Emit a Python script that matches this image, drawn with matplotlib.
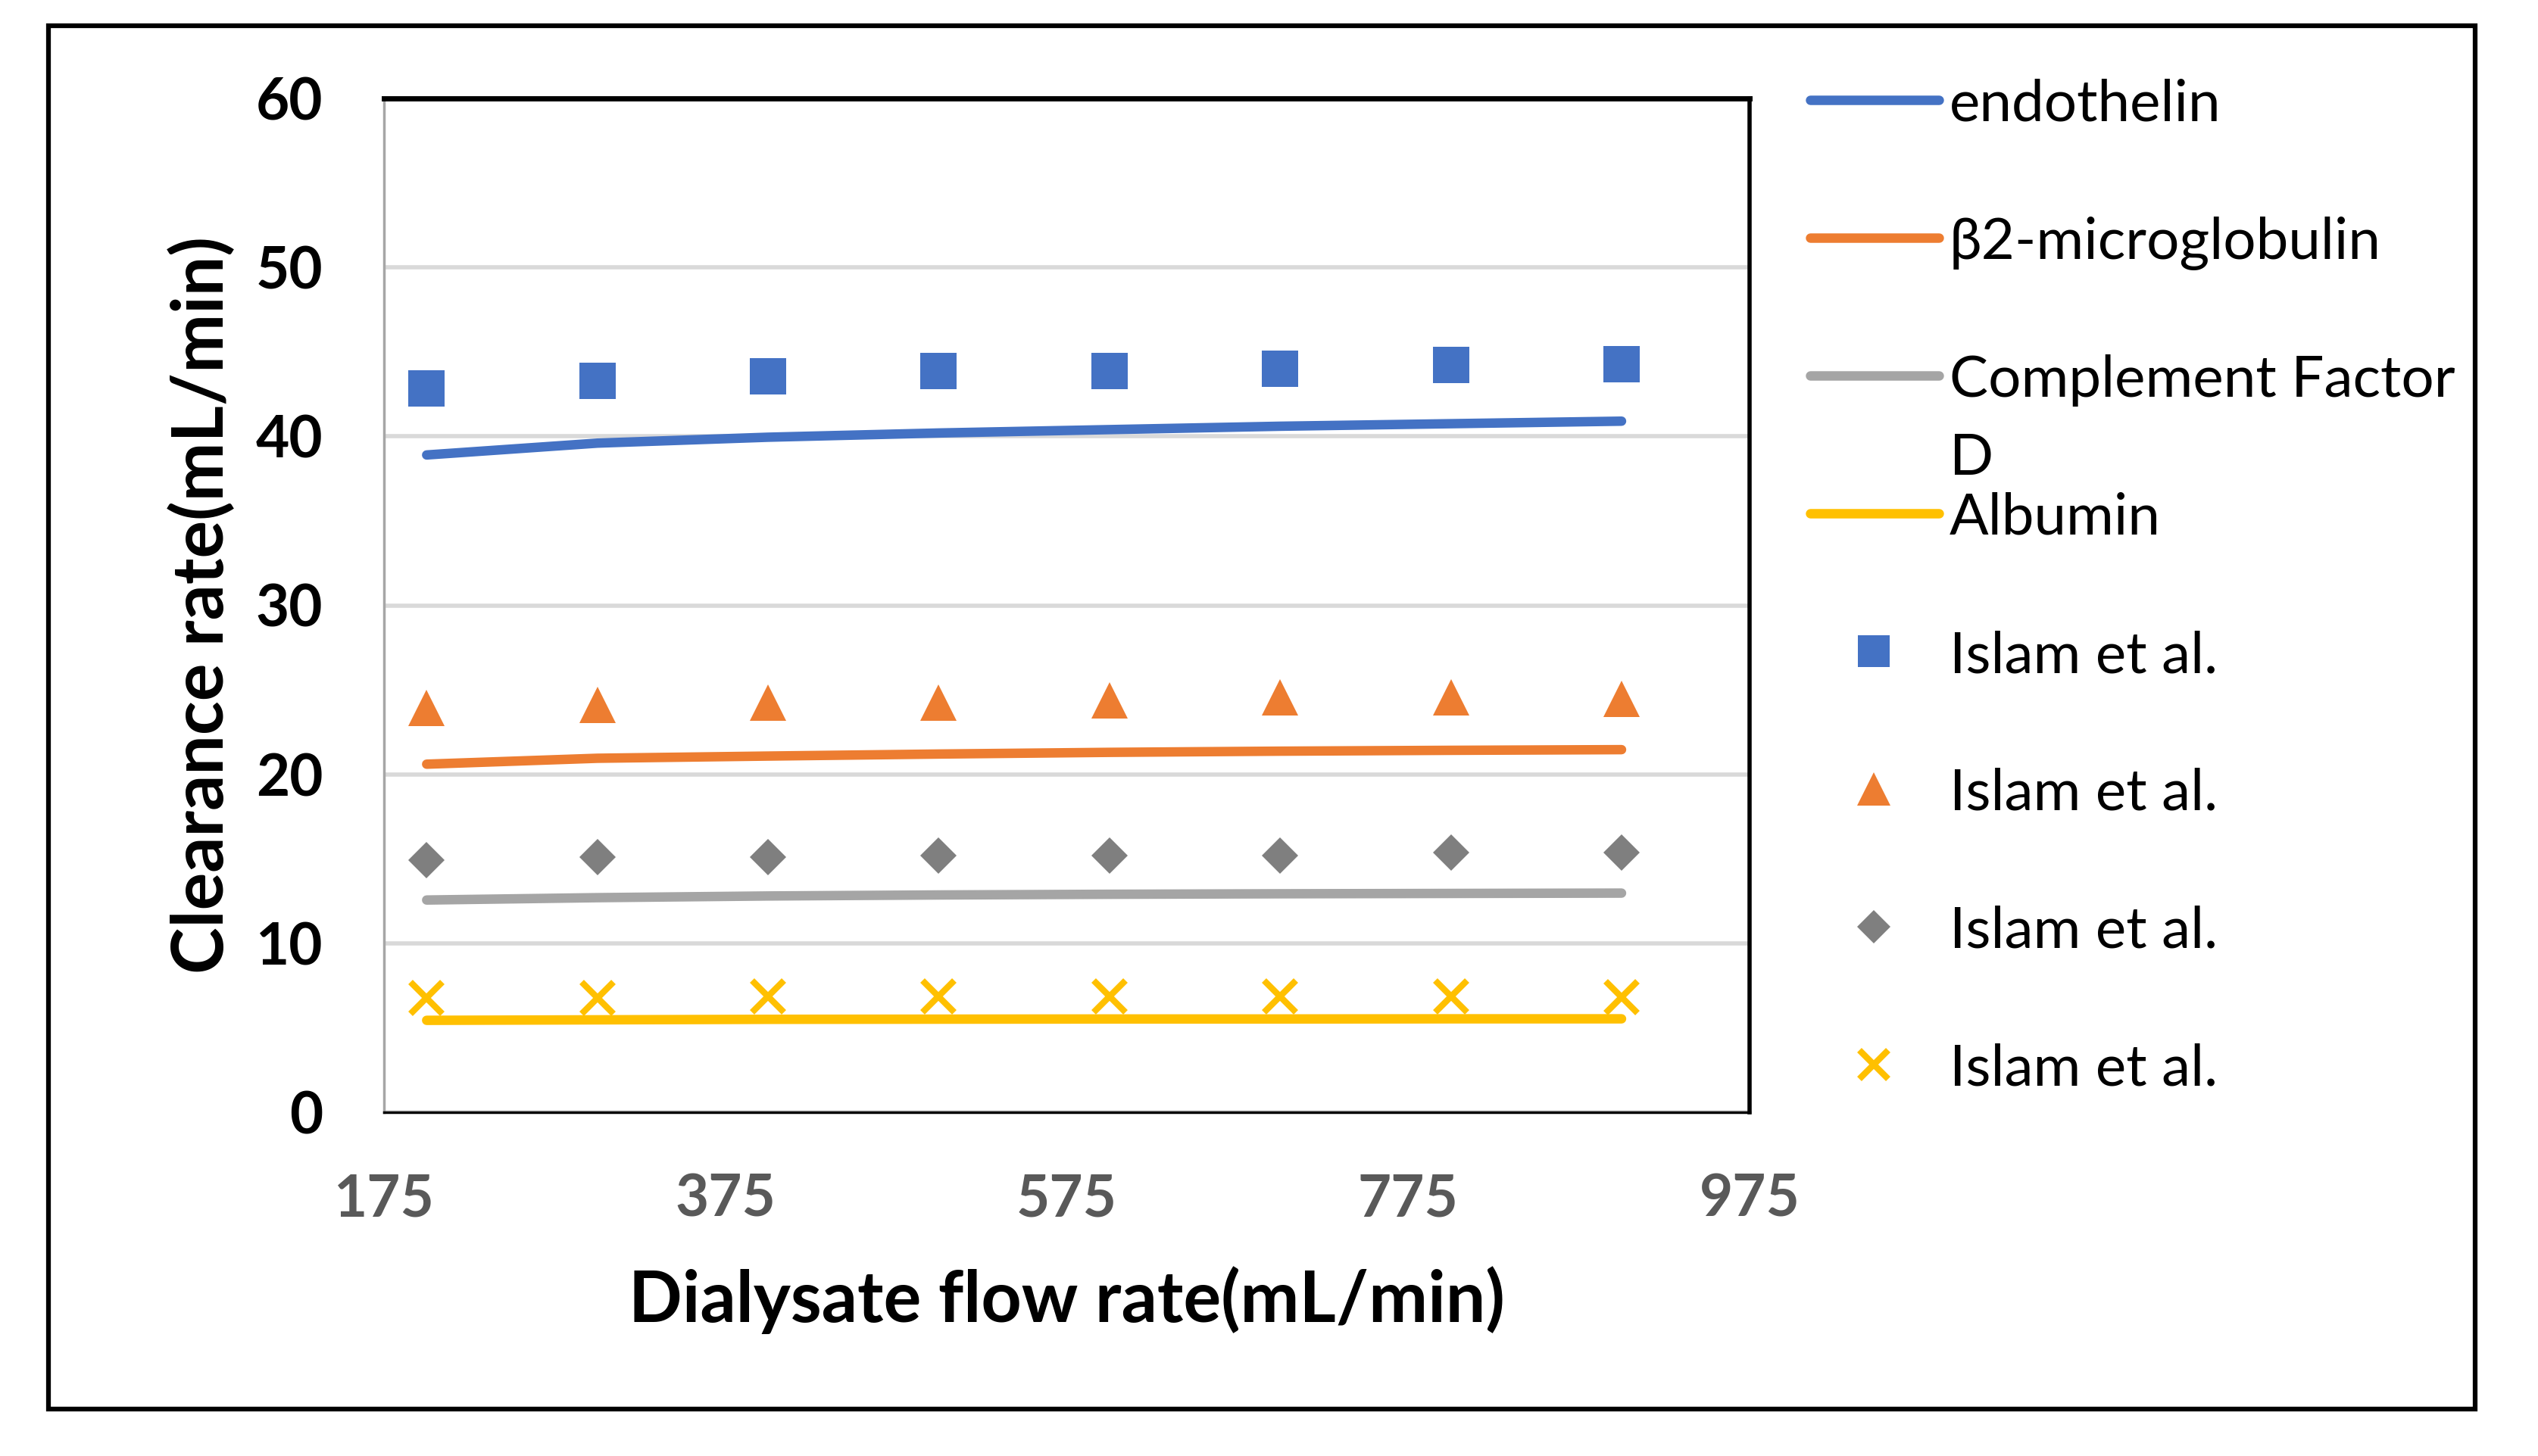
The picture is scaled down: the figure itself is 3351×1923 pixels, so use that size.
import matplotlib.pyplot as plt
from matplotlib.lines import Line2D
from matplotlib.patches import Rectangle

plt.rcParams['font.family'] = ['Lato', 'DejaVu Sans']

# dialysate flow rate (mL/min)
flow = [200, 300, 400, 500, 600, 700, 800, 900]

# model curves
endothelin = [38.9, 39.6, 39.95, 40.2, 40.4, 40.6, 40.75, 40.9]
b2m = [20.6, 20.95, 21.08, 21.2, 21.3, 21.37, 21.42, 21.46]
cfd = [12.56, 12.7, 12.8, 12.86, 12.9, 12.93, 12.95, 12.97]
albumin = [5.44, 5.47, 5.5, 5.51, 5.52, 5.52, 5.53, 5.53]

# Islam et al. measurements
islam_endothelin = [42.83, 43.28, 43.57, 43.85, 43.85, 44.02, 44.21, 44.29]
islam_b2m = [23.92, 24.09, 24.25, 24.25, 24.38, 24.56, 24.56, 24.47]
islam_cfd = [14.91, 15.1, 15.1, 15.19, 15.19, 15.19, 15.36, 15.36]
islam_albumin = [6.78, 6.78, 6.85, 6.85, 6.85, 6.85, 6.85, 6.8]

line_labels = ['endothelin', 'β2-microglobulin', 'Complement Factor\nD', 'Albumin']
point_label = 'Islam et al.'
xticks = [175, 375, 575, 775, 975]
yticks = [0, 10, 20, 30, 40, 50, 60]

blue = '#4472C4'
orange = '#ED7D31'
gray_line = '#A5A5A5'
gray_pt = '#7F7F7F'
yellow = '#FFC000'

W, H = 3351, 1923
fig = plt.figure(figsize=(W / 100, H / 100), dpi=100)
ax = fig.add_axes([507 / W, 1 - 1469 / H, 1803 / W, 1339 / H])

lw = 9
ms = 34
series = [
    (endothelin, islam_endothelin, blue, blue, 's', ms),
    (b2m, islam_b2m, orange, orange, '^', ms),
    (cfd, islam_cfd, gray_line, gray_pt, 'D', 24),
    (albumin, islam_albumin, yellow, yellow, 'x', 30),
]
for model, meas, lc, pc, mk, size in series:
    ax.plot(flow, model, color=lc, lw=lw, solid_capstyle='round', zorder=3)
for model, meas, lc, pc, mk, size in series:
    if mk == 'x':
        ax.plot(flow, meas, ls='none', marker=mk, ms=size, mew=6, color=pc, zorder=4)
    else:
        ax.plot(flow, meas, ls='none', marker=mk, ms=size, mew=0, color=pc, zorder=4)

ax.set_xlim(175, 975)
ax.set_ylim(0, 60)
ax.set_xticks(xticks)
ax.set_yticks(yticks)
ax.yaxis.grid(True, color='#D9D9D9', lw=4)
ax.set_axisbelow(True)
ax.tick_params(length=0, labelsize=55)
ax.tick_params(axis='x', pad=58, labelcolor='#595959')
ax.tick_params(axis='y', pad=58, labelcolor='black')
for lab in ax.get_xticklabels() + ax.get_yticklabels():
    lab.set_fontweight('bold')

ax.spines['top'].set_color('black')
ax.spines['top'].set_linewidth(5)
ax.spines['right'].set_color('black')
ax.spines['right'].set_linewidth(4)
ax.spines['left'].set_color('#A6A6A6')
ax.spines['left'].set_linewidth(2.5)
ax.spines['bottom'].set_color('black')
ax.spines['bottom'].set_linewidth(2.5)

ax.set_xlabel('Dialysate flow rate(mL/min)', fontsize=67, fontweight='bold', labelpad=38)
ax.set_ylabel('Clearance rate(mL/min)', fontsize=67, fontweight='bold', labelpad=19)

# legend drawn at the right side
y0 = 132
step = 182
gap = 103
for i, (lab, col) in enumerate(zip(line_labels, [blue, orange, gray_line, yellow])):
    py = y0 + i * step
    yy = 1 - py / H
    fig.add_artist(Line2D([2390 / W, 2560 / W], [yy, yy], color=col, lw=9,
                          solid_capstyle='round'))
    for k, part in enumerate(lab.split('\n')):
        fig.text(2574 / W, 1 - (py + k * gap) / H, part, fontsize=55,
                 va='center_baseline', ha='left')
for j, (col, mk, size) in enumerate([(blue, 's', 30), (orange, '^', 32),
                                      (gray_pt, 'D', 22), (yellow, 'x', 28)]):
    yy = 1 - (y0 + (j + 4) * step) / H
    fig.add_artist(Line2D([2474 / W], [yy], ls='none', marker=mk, ms=size,
                          mew=6 if mk == 'x' else 0, color=col))
    fig.text(2574 / W, yy, point_label, fontsize=55, va='center_baseline', ha='left')

fig.add_artist(Rectangle((64 / W, 1 - 1861 / H), (3268 - 64) / W, (1861 - 34) / H,
                         transform=fig.transFigure, fill=False, ec='black', lw=4.5))

fig.savefig('out.png', dpi=100)
